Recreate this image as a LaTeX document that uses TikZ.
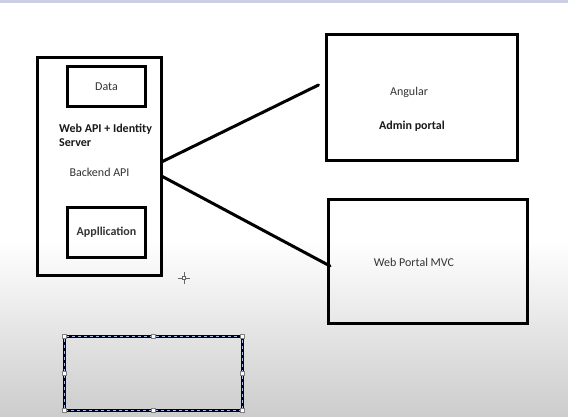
\documentclass[tikz,border=0pt]{standalone}
\usepackage{fontspec}
\setmainfont{Carlito}
\usetikzlibrary{positioning,calc}
\definecolor{topbar}{RGB}{205,208,228}
\definecolor{dashhi}{RGB}{170,190,225}
\tikzset{
	box/.style={
		rectangle,
		line width=3pt,
		draw=black,
		text=black!80,
		font=\fontsize{12}{14}\selectfont,
		inner sep=0pt,
		outer sep=0pt,
	},
	link/.style={
		line width=3pt,
		draw=black,
		line cap=round,
	},
	selbox/.style={
		rectangle,
		line width=3pt,
		draw=black!85!blue,
		inner sep=0pt,
		outer sep=0pt,
		postaction={draw=dashhi, line width=1pt, dash pattern=on 3pt off 3pt},
	},
	handle/.style={
		rectangle,
		draw=gray,
		fill=white,
		line width=0.5pt,
		inner sep=0pt,
		minimum size=4pt,
	},
}

\begin{document}
\begin{tikzpicture}[x=1pt, y=-1pt, node distance=39pt]

	\tikzstyle{txt}=[text=black!80, font=\fontsize{12}{14}\selectfont, inner sep=0pt]
	\tikzstyle{txtb}=[text=black!90, font=\bfseries\fontsize{12}{14}\selectfont, inner sep=0pt]

	% screen background
	\useasboundingbox (0,0) rectangle (568,417);
	\fill[white] (0,0) rectangle (568,417);
	\shade[top color=white, bottom color=black!20] (0,240) rectangle (568,417);
	\fill[topbar] (0,0) rectangle (568,3);

	% backend side
	\node [box, minimum width=124pt, minimum height=218pt] (server) at (99.5,166.5) {};
	\node [box, minimum width=78pt, minimum height=40pt] (data) at (106.5,86.5) {Data};
	\node [box, minimum width=78pt, minimum height=50pt, font=\bfseries\fontsize{12}{14}\selectfont] (app) at (106.5,232.5) {Appllication};
	\node [txtb, anchor=west, align=left] (webapi) at (59,135.5) {Web API + Identity\\Server};
	\node [txt] (backend) at (99.5,172) {Backend API};

	% clients
	\node [box, minimum width=191pt, minimum height=126pt] (angular) at (422,97.5) {};
	\node [box, minimum width=199pt, minimum height=124pt, below=of angular, xshift=6pt] (mvc) {};
	\node [txt] (ngtext) at (409,92) {Angular};
	\node [txtb] (admin) at (412,126) {Admin portal};
	\node [txt] (mvctext) at (414,262) {Web Portal MVC};

	\draw [link] ([yshift=4.5pt]server.east) -- ([xshift=-8pt,yshift=12.5pt]angular.west);
	\draw [link] ([yshift=-9.5pt]server.east) -- ([xshift=1.5pt,yshift=-4.5pt]mvc.west);

	% selected empty shape
	\node [selbox, minimum width=178pt, minimum height=74pt] (sel) at (153.5,373.5) {};
	\foreach \a in {north west,north,north east,east,south east,south,south west,west}
		\node [handle] at (sel.\a) {};

	% mouse pointer
	\draw [black!60, line width=0.8pt] (178,278) -- (190,278) (184,272) -- (184,284);
	\draw [black!60, fill=white, line width=0.5pt] (182.5,276.5) rectangle (185.5,279.5);
\end{tikzpicture}
\end{document}
